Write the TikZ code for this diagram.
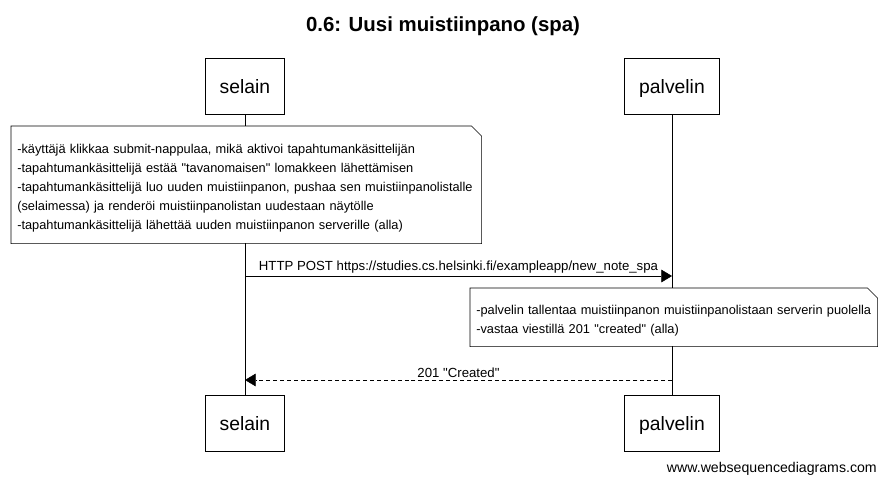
\documentclass[tikz,border=0pt]{standalone}
\usepackage{fontspec}
\setmainfont{Liberation Sans}[Ligatures=TeXOff]
\usetikzlibrary{arrows.meta}

\tikzstyle{actor} = [draw=black, fill=white, rectangle, inner sep=0pt,
  minimum height=42pt, text depth=0pt, font=\fontsize{14.5}{17}\selectfont]
\tikzstyle{note} = [fill=white, rectangle, anchor=north west, align=left,
  inner xsep=4.5pt, inner ysep=0pt, font=\fontsize{9.6}{14.2}\selectfont,
  execute at begin node=\rule{0pt}{12pt}]
\tikzstyle{msg} = [inner sep=1.5pt, font=\fontsize{9.9}{11}\selectfont]
\tikzstyle{call} = [draw=black, -{Triangle[length=8pt,width=9.5pt]}]
\tikzstyle{reply} = [call, dash pattern=on 3pt off 2.2pt]

% note frame with folded corner
\newcommand{\noteframe}[1]{%
  \draw (#1.north west) -- ([xshift=-7.5pt]#1.north east)
    -- ([yshift=-7.5pt]#1.north east) -- (#1.south east)
    -- (#1.south west) -- cycle;}

\begin{document}
\begin{tikzpicture}[x=0.75pt, y=-0.75pt]
        \useasboundingbox (0,0) rectangle (886,485);

        \node [font=\bfseries\fontsize{15.3}{18}\selectfont] (title) at (443,26)
          {0.6: Uusi muistiinpano (spa)};

        \node [actor, minimum width=59.25pt] (selain)    at (245, 86) {selain};
        \node [actor, minimum width=71.25pt] (palvelin)  at (672, 86) {palvelin};
        \node [actor, minimum width=59.25pt] (selainB)   at (245,423) {selain};
        \node [actor, minimum width=71.25pt] (palvelinB) at (672,423) {palvelin};

        \draw (selain.south)   -- (selainB.north);
        \draw (palvelin.south) -- (palvelinB.north);

        \node [note, minimum width=352.5pt, minimum height=87.75pt,
          text width=343.5pt] (note1) at (11,126)
          {-käyttäjä klikkaa submit-nappulaa, mikä aktivoi tapahtumankäsittelijän\\
           -tapahtumankäsittelijä estää "tavanomaisen" lomakkeen lähettämisen\\
           -tapahtumankäsittelijä luo uuden muistiinpanon, pushaa sen muistiinpanolistalle\\
           (selaimessa) ja renderöi muistiinpanolistan uudestaan näytölle\\
           -tapahtumankäsittelijä lähettää uuden muistiinpanon serverille (alla)};
        \noteframe{note1}

        \draw [call] (selain |- 0,276) --
          node [msg, above] {HTTP POST https://studies.cs.helsinki.fi/exampleapp/new\_note\_spa}
          (palvelin |- 0,276);

        \node [note, minimum width=305.25pt, minimum height=43.5pt,
          text width=296.25pt] (note2) at (470,288)
          {-palvelin tallentaa muistiinpanon muistiinpanolistaan serverin puolella\\
           -vastaa viestillä 201 "created" (alla)};
        \noteframe{note2}

        \draw [reply] (palvelin |- 0,380) --
          node [msg, above] {201 "Created"}
          (selain |- 0,380);

        \node [anchor=east, inner sep=0pt, font=\fontsize{10.6}{12}\selectfont]
          (footer) at (877,469) {www.websequencediagrams.com};
      \end{tikzpicture}
\end{document}
